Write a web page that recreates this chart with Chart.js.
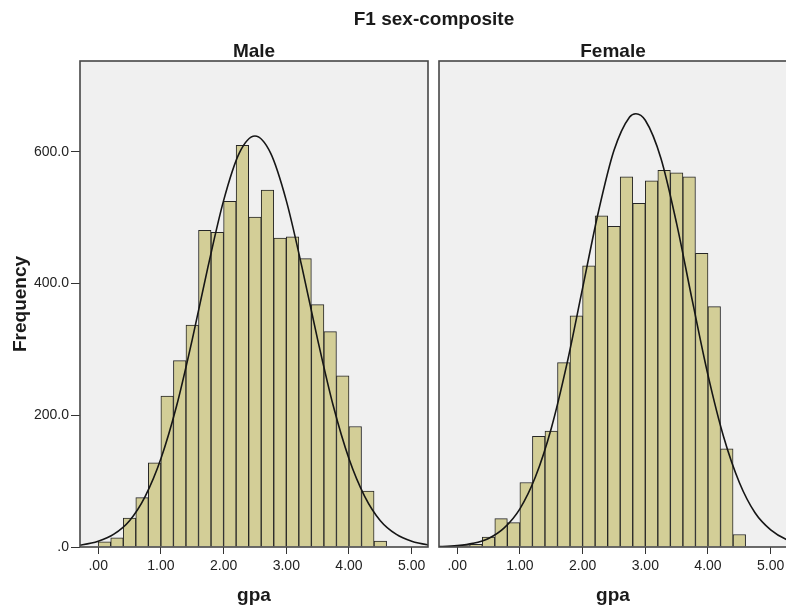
<!DOCTYPE html>
<html>
<head>
<meta charset="utf-8">
<script src="https://cdn.jsdelivr.net/npm/chart.js@4.4.1/dist/chart.umd.min.js"></script>
<style>
html,body{margin:0;padding:0;background:#fff;overflow:hidden;width:786px;height:611px;}
#wrap{position:relative;width:786px;height:611px;overflow:hidden;background:#fff;}
.t{position:absolute;font-family:"Liberation Sans",Arial,sans-serif;font-weight:bold;color:#1a1a1a;white-space:nowrap;transform:translateX(-50%);font-size:19px;line-height:19px;}
canvas{position:absolute;top:0;}
</style>
</head>
<body>
<div id="wrap">
  <canvas id="c1" width="433" height="611" style="left:0px"></canvas>
  <canvas id="c2" width="360" height="611" style="left:433px"></canvas>
  <div class="t" style="left:434px;top:9px;">F1 sex-composite</div>
  <div class="t" style="left:254px;top:41px;">Male</div>
  <div class="t" style="left:613px;top:41px;">Female</div>
</div>
<script>
// ---- data ----
const binCenters = [0.1,0.3,0.5,0.7,0.9,1.1,1.3,1.5,1.7,1.9,2.1,2.3,2.5,2.7,2.9,3.1,3.3,3.5,3.7,3.9,4.1,4.3,4.5];
const maleCounts = [8,14,44,75,128,229,283,337,481,478,525,610,501,542,469,471,438,368,327,260,183,85,9];
const femaleCounts = [2,4,15,43,37,98,168,176,280,351,427,503,487,562,522,556,572,568,562,446,365,149,19];

const maleCurveX = [-0.5,-0.25,0,0.25,0.5,0.75,1,1.25,1.5,1.75,2,2.25,2.5,2.75,3,3.25,3.5,3.75,4,4.25,4.5,4.75,5,5.25,5.5];
const maleCurveY = [1.3,3.5,8.7,19.5,40,77,134,214,315,425,526,598,624,598,526,425,315,214,134,77,40,19.5,8.7,3.5,1.3];

const femaleCurveX = [-0.5,-0.25,0,0.25,0.5,0.75,1,1.25,1.5,1.75,2,2.25,2.5,2.75,2.85,3,3.25,3.5,3.75,4,4.25,4.5,4.75,5,5.25,5.5];
const femaleCurveY = [0.2,0.7,2.1,5.5,13,29,58,107,180,278,393,508,602,653,658,648,590,491,374,261,167,98,52,26,11.5,4.7];

const xTickValues = [0,1,2,3,4,5];
const xTickLabels = [".00","1.00","2.00","3.00","4.00","5.00"];
const yTickValues = [0,200,400,600];
const yTickLabels = [".0","200.0","400.0","600.0"];

// ---- styling ----
const FAMILY = "'Liberation Sans', Arial, sans-serif";

const framePlugin = {
  id: 'frame',
  beforeDraw(chart) {
    const {ctx, chartArea: a} = chart;
    ctx.save();
    ctx.fillStyle = '#f0f0f0';
    ctx.fillRect(a.left, a.top, a.right - a.left, a.bottom - a.top);
    ctx.restore();
  },
  afterDraw(chart) {
    const {ctx, chartArea: a} = chart;
    ctx.save();
    ctx.strokeStyle = '#474747';
    ctx.lineWidth = 1.6;
    ctx.strokeRect(a.left, a.top, a.right - a.left, a.bottom - a.top);
    ctx.restore();
  }
};

function makeChart(id, counts, cx, cy, isLeft) {
  return new Chart(document.getElementById(id), {
    data: {
      datasets: [
        {
          type: 'line',
          data: cx.map((x, i) => ({x: x, y: cy[i]})),
          borderColor: '#161616',
          borderWidth: 1.6,
          pointRadius: 0,
          fill: false,
          cubicInterpolationMode: 'monotone',
          order: 0
        },
        {
          type: 'bar',
          data: binCenters.map((x, i) => ({x: x, y: counts[i]})),
          backgroundColor: '#d3ce97',
          borderColor: '#262626',
          borderWidth: 1,
          barPercentage: 1,
          categoryPercentage: 1,
          order: 1
        }
      ]
    },
    options: {
      responsive: false,
      animation: false,
      events: [],
      layout: {padding: {top: 61, right: isLeft ? 5 : 6, left: 0, bottom: 0}},
      plugins: {legend: {display: false}, tooltip: {enabled: false}, title: {display: false}},
      scales: {
        x: {
          type: 'linear',
          min: -0.29,
          max: 5.26,
          offset: false,
          afterBuildTicks: s => { s.ticks = xTickValues.map(v => ({value: v})); },
          afterFit: s => { s.height = 64; },
          ticks: {
            callback: v => xTickLabels[xTickValues.indexOf(v)],
            font: {family: FAMILY, size: 14},
            color: '#222',
            padding: 4,
            maxRotation: 0,
            autoSkip: false
          },
          grid: {offset: false, drawOnChartArea: false, drawTicks: true, tickLength: 7, color: '#333', lineWidth: 1},
          border: {display: false},
          title: {
            display: true, text: 'gpa',
            font: {family: FAMILY, size: 19, weight: 'bold'},
            color: '#1a1a1a',
            padding: {top: 0, bottom: 4}
          }
        },
        y: {
          type: 'linear',
          min: 0,
          max: 738,
          afterBuildTicks: s => { s.ticks = yTickValues.map(v => ({value: v})); },
          afterFit: s => { s.width = isLeft ? 80 : 6; },
          ticks: {
            display: isLeft,
            callback: v => yTickLabels[yTickValues.indexOf(v)],
            font: {family: FAMILY, size: 14},
            color: '#222',
            padding: 2
          },
          grid: {drawOnChartArea: false, drawTicks: isLeft, tickLength: 9, color: '#333', lineWidth: 1},
          border: {display: false},
          title: {
            display: isLeft, text: 'Frequency',
            font: {family: FAMILY, size: 19, weight: 'bold'},
            color: '#1a1a1a',
            padding: {top: 9, bottom: 0}
          }
        }
      }
    },
    plugins: [framePlugin]
  });
}

makeChart('c1', maleCounts, maleCurveX, maleCurveY, true);
makeChart('c2', femaleCounts, femaleCurveX, femaleCurveY, false);
</script>
</body>
</html>
